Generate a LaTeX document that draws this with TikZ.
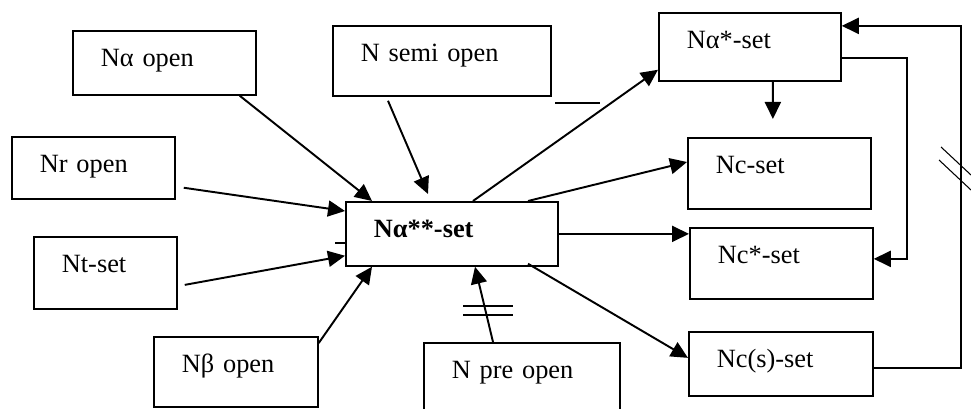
\documentclass[tikz,border=0pt]{standalone}
\usepackage{fontspec}
\setmainfont{Liberation Serif}
\usetikzlibrary{arrows.meta}
\tikzstyle{box} = [draw=black, line width=1pt, anchor=north west, align=left, inner xsep=0.56cm, inner ysep=0pt, text height=0.72cm, font=\fontsize{15}{18}\selectfont]
\tikzstyle{arr} = [-{Triangle[length=0.34cm,width=0.32cm]}, line width=1.1pt]
\tikzstyle{tick} = [line width=1.1pt]
\tikzstyle{slash} = [line width=0.6pt]

\begin{document}
\begin{tikzpicture}
    \useasboundingbox (0,0) rectangle (19.42,-8.18);
    % left column
    \node[box, text width=2.54cm, text depth=0.56cm](naopen) at (1.44,-0.60){Nα open};
    \node[box, text width=2.14cm, text depth=0.52cm](nropen) at (0.22,-2.72){Nr open};
    \node[box, text width=1.74cm, text depth=0.72cm](ntset) at (0.66,-4.72){Nt-set};
    \node[box, text width=2.16cm, text depth=0.68cm](nbopen) at (3.06,-6.72){Nβ open};
    \node[box, text width=3.24cm, text depth=0.68cm](nsemi) at (6.64,-0.50){N semi open};
    \node[box, text width=2.80cm, text depth=0.64cm](npre) at (8.46,-6.84){N pre open};
    % middle
    \node[box, text width=3.12cm, text depth=0.56cm](naa) at (6.90,-4.02){\textbf{Nα**-set}};
    % right column
    \node[box, text width=2.52cm, text depth=0.64cm](nastar) at (13.16,-0.24){Nα*-set};
    \node[box, text width=2.54cm, text depth=0.70cm](ncset) at (13.74,-2.74){Nc-set};
    \node[box, text width=2.54cm, text depth=0.70cm](ncstar) at (13.78,-4.54){Nc*-set};
    \node[box, text width=2.56cm, text depth=0.56cm](ncs) at (13.76,-6.62){Nc(s)-set};
    % into the middle box
    \draw[arr]([xshift=-0.34cm]naopen.south east)--([xshift=0.54cm]naa.north west);
    \draw[arr]([xshift=1.12cm,yshift=-0.08cm]nsemi.south west)--([xshift=1.66cm,yshift=0.14cm]naa.north west);
    \draw[arr]([xshift=0.16cm,yshift=0.24cm]nropen.south east)--([yshift=-0.2cm]naa.north west);
    \draw[arr]([xshift=0.14cm,yshift=-0.24cm]ntset.east)--([yshift=0.22cm]naa.south west);
    \draw[arr]([yshift=-0.14cm]nbopen.north east)--([xshift=0.54cm]naa.south west);
    \draw[arr]([xshift=1.40cm]npre.north west)--([xshift=2.60cm]naa.south west);
    % out of the middle box
    \draw[arr]([xshift=2.56cm]naa.north west)--([yshift=0.24cm]nastar.south west);
    \draw[arr]([xshift=3.66cm]naa.north west)--([yshift=-0.5cm]ncset.north west);
    \draw[arr](naa.east)--(naa.east -| ncstar.west);
    \draw[arr]([xshift=3.66cm,yshift=0.06cm]naa.south west)--([yshift=0.12cm]ncs.west);
    \draw[arr]([xshift=0.46cm]nastar.south)--([xshift=-0.13cm,yshift=0.36cm]ncset.north);
    % loops on the right
    \draw[arr]([yshift=-0.22cm]nastar.east)--++(1.30,0)|-([yshift=0.09cm]ncstar.east);
    \draw[arr]([yshift=-0.08cm]ncs.east)--++(1.74,0)|-([yshift=0.42cm]nastar.east);
    % marks
    \draw[slash](18.82,-2.94)--(19.42,-3.50);
    \draw[slash](18.78,-3.20)--(19.42,-3.80);
    \draw[slash](9.26,-6.12)--(10.26,-6.12);
    \draw[slash](9.26,-6.30)--(10.26,-6.30);
    \draw[tick](11.10,-2.06)--(12.00,-2.06);
    \draw[tick](6.70,-4.86)--(6.90,-4.86);
\end{tikzpicture}
\end{document}
